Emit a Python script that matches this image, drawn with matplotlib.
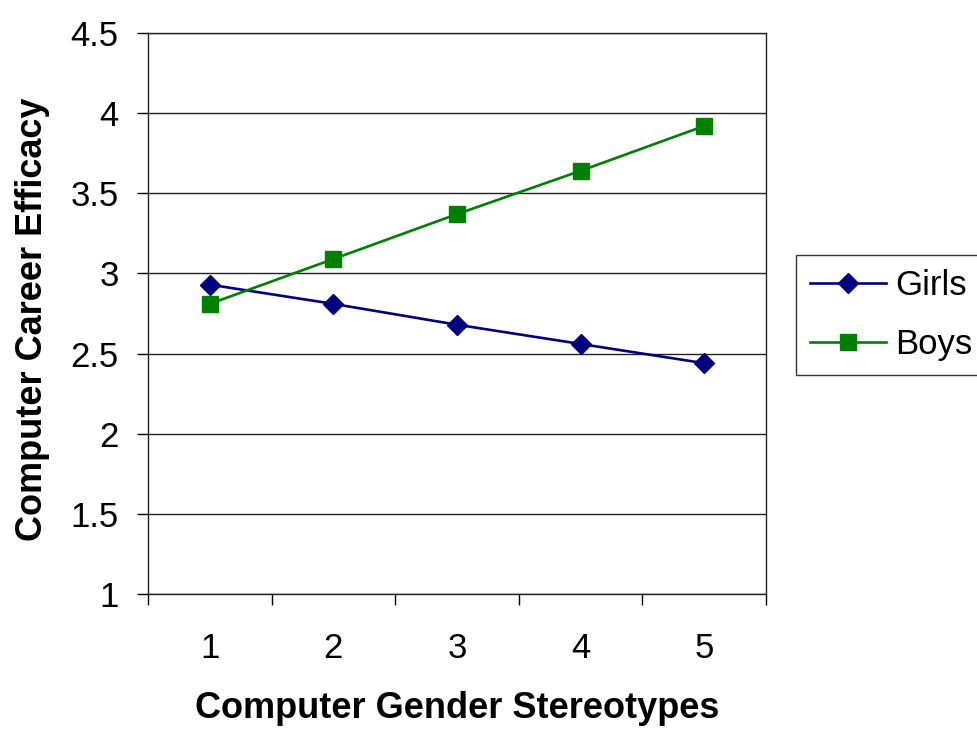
import numpy as np
import matplotlib
matplotlib.use("Agg")
import matplotlib.pyplot as plt

# données
categories = [1, 2, 3, 4, 5]
girls = [2.93, 2.81, 2.68, 2.56, 2.44]
boys = [2.81, 3.09, 3.37, 3.64, 3.92]
y_ticks = [1, 1.5, 2, 2.5, 3, 3.5, 4, 4.5]
y_tick_labels = ["1", "1.5", "2", "2.5", "3", "3.5", "4", "4.5"]

plt.rcParams["font.family"] = ["Liberation Sans", "DejaVu Sans"]

fig = plt.figure(figsize=(9.78, 7.33), dpi=100)
# zone de tracé placée comme dans l'original (en pixels)
ax = fig.add_axes([148 / 978, 1 - 594 / 733, (766 - 148) / 978, (594 - 33) / 733])

ax.plot(categories, girls, color="#000080", lw=1.9, marker="D", markersize=10.5,
        label="Girls", zorder=3)
ax.plot(categories, boys, color="#008000", lw=1.9, marker="s", markersize=11,
        label="Boys", zorder=3)

ax.set_xlim(0.5, 5.5)
ax.set_ylim(1, 4.5)
ax.set_yticks(y_ticks)
ax.set_yticklabels(y_tick_labels)
ax.set_xticks(categories)
ax.set_xticks(np.arange(0.5, 6.0, 1.0), minor=True)
ax.tick_params(axis="x", which="major", length=0, pad=27, labelsize=25)
ax.tick_params(axis="x", which="minor", length=8, width=1, direction="out")
ax.tick_params(axis="y", length=8, width=1, direction="out", pad=13, labelsize=25)

ax.grid(axis="y", color="#222222", lw=1)
ax.set_axisbelow(True)
for side in ["left", "bottom", "right", "top"]:
    ax.spines[side].set_color("#222222")
    ax.spines[side].set_linewidth(1)

ax.set_xlabel("Computer Gender Stereotypes", fontsize=26, fontweight="bold", va="center")
ax.xaxis.set_label_coords(0.5, (594 - 709) / 561)
ax.set_ylabel("Computer Career Efficacy", fontsize=26, fontweight="bold", ha="center", va="center")
ax.yaxis.set_label_coords((33 - 148) / 618, (594 - 319) / 561)

fig.legend(loc="upper left", bbox_to_anchor=(796 / 978, 1 - 255 / 733), fontsize=25,
           frameon=True, fancybox=False, edgecolor="#333333", framealpha=1,
           handlelength=2.2, borderpad=0.4, labelspacing=0.75, handletextpad=0.25,
           borderaxespad=0)

fig.savefig("out.png", dpi=100)
